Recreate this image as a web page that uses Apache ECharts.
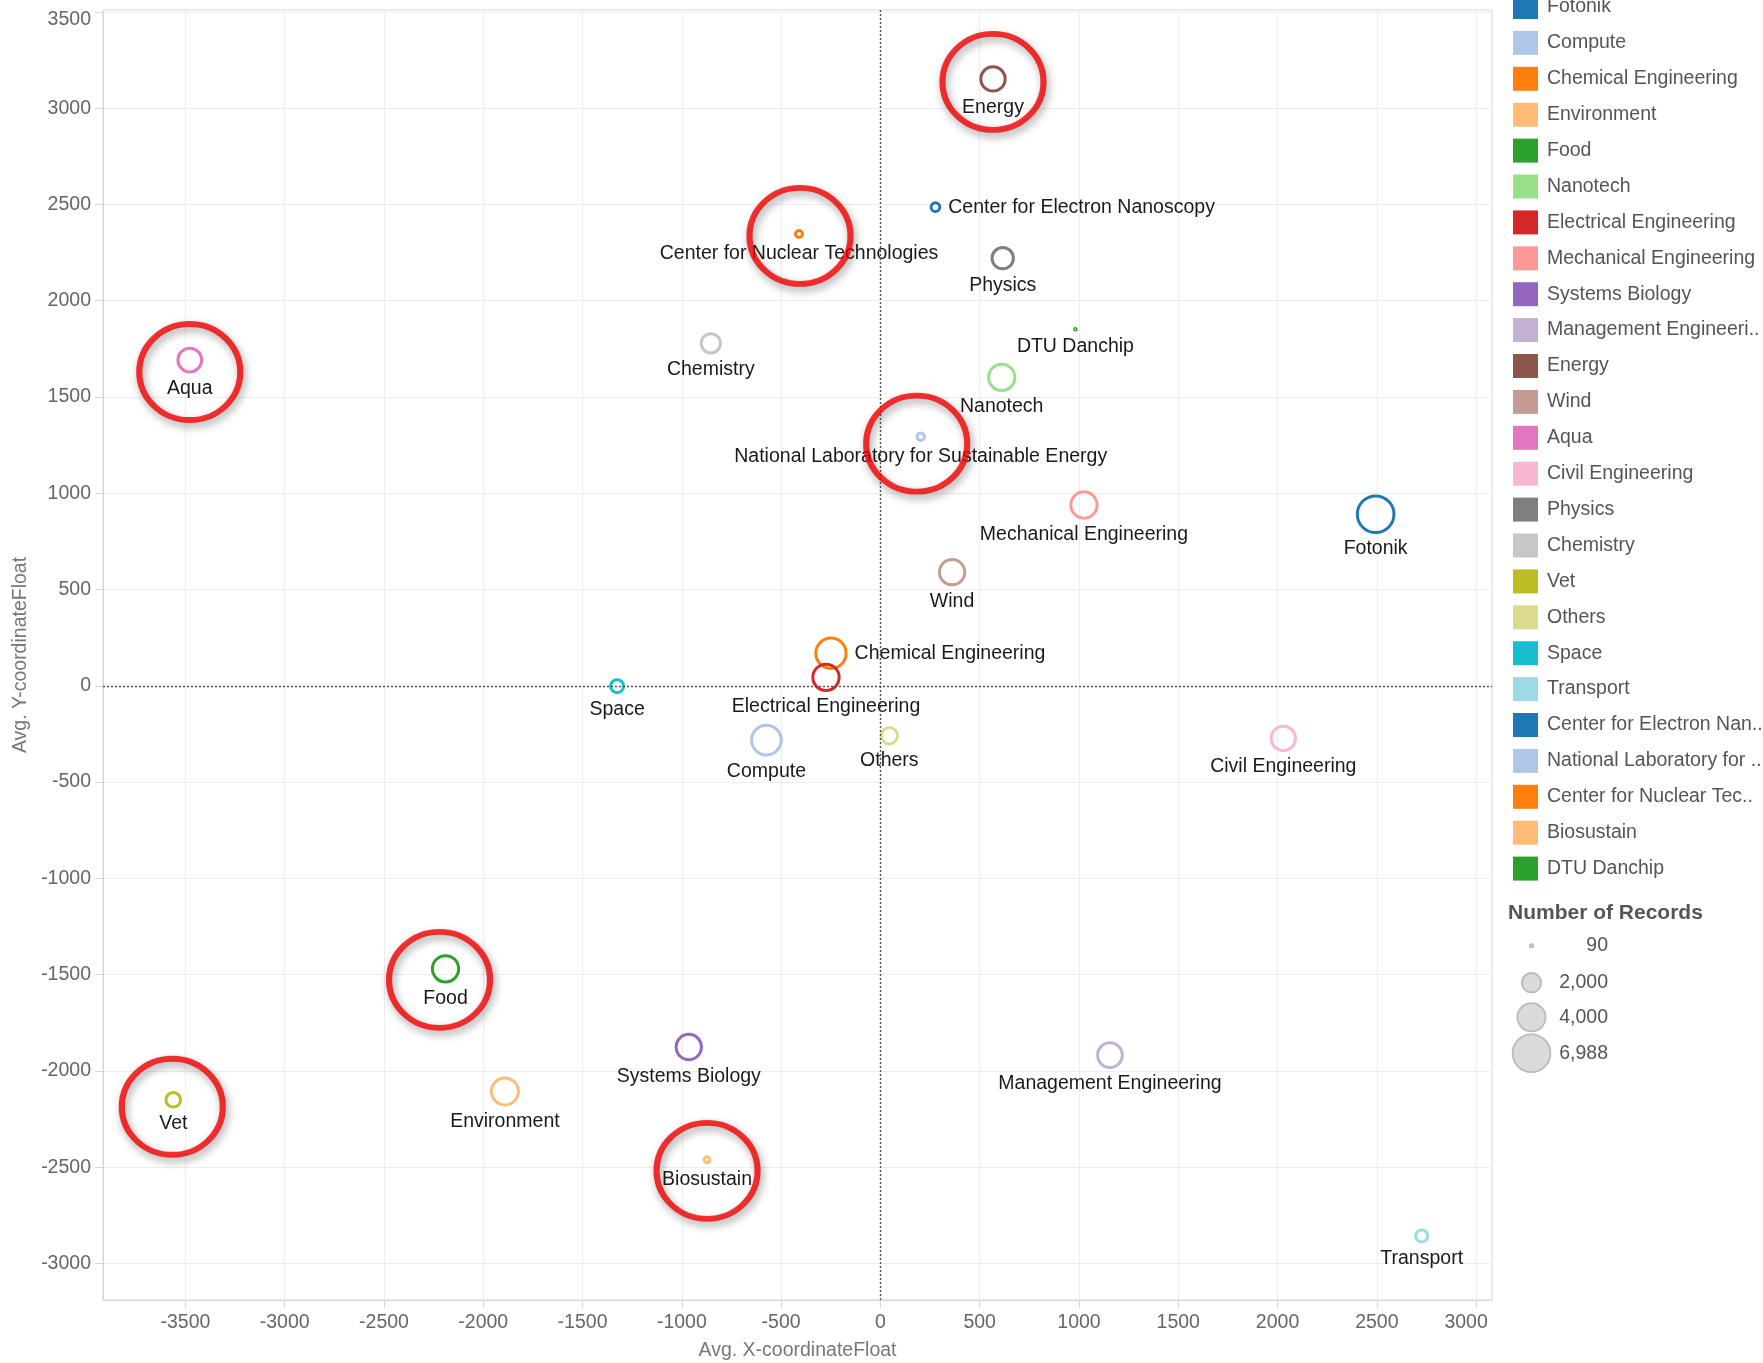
<!DOCTYPE html>
<html>
<head>
<meta charset="utf-8">
<script src="https://cdn.jsdelivr.net/npm/echarts@6/dist/echarts.min.js"></script>
<style>
  html, body { margin: 0; padding: 0; background: #ffffff; }
  #chart { width: 1763px; height: 1363px; }
</style>
</head>
<body>
<div id="chart"></div>
<script>
// Departments, in legend order
const departments = [
  'Fotonik', 'Compute', 'Chemical Engineering', 'Environment', 'Food',
  'Nanotech', 'Electrical Engineering', 'Mechanical Engineering', 'Systems Biology',
  'Management Engineering', 'Energy', 'Wind', 'Aqua', 'Civil Engineering',
  'Physics', 'Chemistry', 'Vet', 'Others', 'Space', 'Transport',
  'Center for Electron Nanoscopy', 'National Laboratory for Sustainable Energy',
  'Center for Nuclear Technologies', 'Biosustain', 'DTU Danchip'
];

// Avg. X-coordinateFloat per department
const avgX = [
  2494, -574, -249, -1891, -2190,
  611, -274, 1025, -965,
  1156, 567, 361, -3478, 2029,
  616, -854, -3561, 45, -1326, 2726,
  277, 203,
  -410, -873, 982
];

// Avg. Y-coordinateFloat per department
const avgY = [
  891, -282, 169, -2107, -1470,
  1602, 44, 939, -1876,
  -1918, 3152, 590, 1692, -273,
  2221, 1779, -2150, -259, -2, -2857,
  2486, 1294,
  2347, -2462, 1852
];

// Number of Records per department
const recordCounts = [
  6988, 4760, 4940, 4000, 3820,
  3820, 3820, 3820, 3560,
  3420, 3320, 3560, 3170, 3320,
  2630, 2210, 1390, 1660, 1140, 1000,
  610, 490,
  445, 360, 90
];

// Tick labels
const xTickValues = [-3500, -3000, -2500, -2000, -1500, -1000, -500, 0, 500, 1000, 1500, 2000, 2500, 3000];
const yTickValues = [-3000, -2500, -2000, -1500, -1000, -500, 0, 500, 1000, 1500, 2000, 2500, 3000, 3500];

// Size key entries
const sizeLegendValues = [90, 2000, 4000, 6988];

// Departments circled in red
const highlighted = [
  'Energy', 'Center for Nuclear Technologies', 'Aqua',
  'National Laboratory for Sustainable Energy', 'Food', 'Vet', 'Biosustain'
];

const palette = [
  '#1f77b4', '#aec7e8', '#ff7f0e', '#ffbb78', '#2ca02c',
  '#98df8a', '#d62728', '#ff9896', '#9467bd', '#c5b0d5',
  '#8c564b', '#c49c94', '#e377c2', '#f7b6d2', '#7f7f7f',
  '#c7c7c7', '#bcbd22', '#dbdb8d', '#17becf', '#9edae5',
  '#1f77b4', '#aec7e8', '#ff7f0e', '#ffbb78', '#2ca02c'
];

const FONT = '"Liberation Sans", Arial, Helvetica, sans-serif';
const FS = 19.5;
const RING = 3;

// Marker area is proportional to the record count
const diameter = n => 0.474 * Math.sqrt(n);

const rightLabeled = ['Center for Electron Nanoscopy', 'Chemical Engineering'];

const legendLabel = {
  'Management Engineering': 'Management Engineeri..',
  'Center for Electron Nanoscopy': 'Center for Electron Nan..',
  'National Laboratory for Sustainable Energy': 'National Laboratory for ..',
  'Center for Nuclear Technologies': 'Center for Nuclear Tec..'
};

// Nudge of each red ring relative to its point (px)
const ringNudge = {
  'Energy': [0, 3],
  'Center for Nuclear Technologies': [1, 2],
  'Aqua': [0, 12],
  'National Laboratory for Sustainable Energy': [-4, 7],
  'Food': [-6, 11],
  'Vet': [-1, 7],
  'Biosustain': [0, 11]
};

const departmentSeries = departments.map((name, i) => {
  const right = rightLabeled.includes(name);
  return {
    type: 'scatter',
    name: name,
    data: [[avgX[i], avgY[i], recordCounts[i]]],
    symbol: 'circle',
    symbolSize: v => Math.max(diameter(v[2]) - RING, 1.5),
    itemStyle: { color: 'rgba(255,255,255,0)', borderColor: palette[i], borderWidth: RING, opacity: 1 },
    label: {
      show: true,
      formatter: p => p.seriesName,
      position: right ? 'right' : 'bottom',
      distance: right ? 7 : 5,
      color: '#1a1a1a',
      fontSize: FS,
      fontFamily: FONT
    },
    emphasis: { disabled: true },
    silent: true,
    z: 3
  };
});

const zeroLines = {
  type: 'scatter',
  name: '__zero',
  data: [],
  silent: true,
  z: 1,
  markLine: {
    silent: true,
    symbol: 'none',
    animation: false,
    label: { show: false },
    lineStyle: { color: '#555555', width: 1.4, type: [2, 2] },
    data: [{ xAxis: 0 }, { yAxis: 0 }]
  }
};

const ringSeries = {
  type: 'scatter',
  name: '__rings',
  data: highlighted.map(name => {
    const i = departments.indexOf(name);
    return { value: [avgX[i], avgY[i]], symbolOffset: ringNudge[name] || [0, 8] };
  }),
  symbol: 'circle',
  symbolSize: [101, 96],
  itemStyle: {
    color: 'rgba(0,0,0,0)',
    borderColor: '#f20000',
    borderWidth: 6,
    shadowColor: 'rgba(0,0,0,0.45)',
    shadowBlur: 8,
    shadowOffsetX: 2,
    shadowOffsetY: 4
  },
  emphasis: { disabled: true },
  silent: true,
  z: 10
};

const sizeRowY = [945.7, 982.7, 1017.3, 1053.3];
const sizeKey = [
  {
    type: 'text', x: 1508, y: 913,
    style: {
      text: 'Number of Records', font: 'bold 21px ' + FONT, fill: '#555555',
      verticalAlign: 'middle', textVerticalAlign: 'middle'
    }
  }
];
sizeLegendValues.forEach((v, k) => {
  sizeKey.push({
    type: 'circle',
    shape: { cx: 1531.5, cy: sizeRowY[k], r: Math.max(diameter(v) / 2 - 0.9, 1.6) },
    style: { fill: '#dadada', stroke: '#bababa', lineWidth: 1.8 }
  });
  sizeKey.push({
    type: 'text', x: 1608, y: sizeRowY[k],
    style: {
      text: v.toLocaleString('en-US'), font: FS + 'px ' + FONT, fill: '#555555',
      align: 'right', textAlign: 'right', verticalAlign: 'middle', textVerticalAlign: 'middle'
    }
  });
});

const chart = echarts.init(document.getElementById('chart'), null, { renderer: 'canvas' });
chart.setOption({
  animation: false,
  backgroundColor: '#ffffff',
  grid: {
    left: 103, top: 10, width: 1389, height: 1290,
    containLabel: false, outerBoundsMode: 'none',
    show: true, borderColor: '#d6d6d6', borderWidth: 1
  },
  xAxis: {
    type: 'value', min: -3915, max: 3080, splitNumber: 14,
    name: 'Avg. X-coordinateFloat', nameLocation: 'middle', nameGap: 41,
    nameTextStyle: { color: '#777777', fontSize: FS, fontFamily: FONT },
    axisLine: { show: true, onZero: false, lineStyle: { color: '#d6d6d6' } },
    axisTick: { show: true, length: 8, lineStyle: { color: '#d6d6d6' }, customValues: xTickValues },
    axisLabel: {
      color: '#666666', fontSize: FS, fontFamily: FONT, margin: 13,
      customValues: xTickValues,
      // the last label is kept inside the plot's right edge
      formatter: v => (v % 500 !== 0 ? '' : v === 3000 ? '{edge|3000}' : String(v)),
      rich: { edge: { color: '#666666', fontSize: FS, fontFamily: FONT, padding: [0, 20, 0, 0] } }
    },
    splitLine: { show: true, lineStyle: { color: '#eeeeee', width: 1 } }
  },
  yAxis: {
    type: 'value', min: -3190, max: 3510, splitNumber: 14,
    name: 'Avg. Y-coordinateFloat', nameLocation: 'middle', nameGap: 69,
    nameTextStyle: { color: '#777777', fontSize: FS, fontFamily: FONT },
    axisLine: { show: true, onZero: false, lineStyle: { color: '#d6d6d6' } },
    axisTick: { show: true, length: 8, lineStyle: { color: '#d6d6d6' }, customValues: yTickValues },
    axisLabel: {
      color: '#666666', fontSize: FS, fontFamily: FONT, margin: 12,
      customValues: yTickValues,
      // the top label is kept inside the plot's top edge
      formatter: v => (v % 500 !== 0 ? '' : v === 3500 ? '{edge|3500}' : String(v)),
      rich: { edge: { color: '#666666', fontSize: FS, fontFamily: FONT, padding: [16, 0, 0, 0] } }
    },
    splitLine: { show: true, lineStyle: { color: '#eeeeee', width: 1 } }
  },
  legend: {
    orient: 'vertical', left: 1513, top: -5, padding: 0,
    itemWidth: 25, itemHeight: 24, itemGap: 11.9,
    icon: 'rect', selectedMode: false,
    textStyle: { color: '#555555', fontSize: FS, fontFamily: FONT, padding: [0, 0, 0, 4] },
    formatter: name => legendLabel[name] || name,
    data: departments.map((name, i) => ({
      name: name,
      itemStyle: { color: palette[i], borderWidth: 0, opacity: 1 }
    }))
  },
  graphic: sizeKey,
  series: [zeroLines].concat(departmentSeries, [ringSeries])
});
</script>
</body>
</html>
